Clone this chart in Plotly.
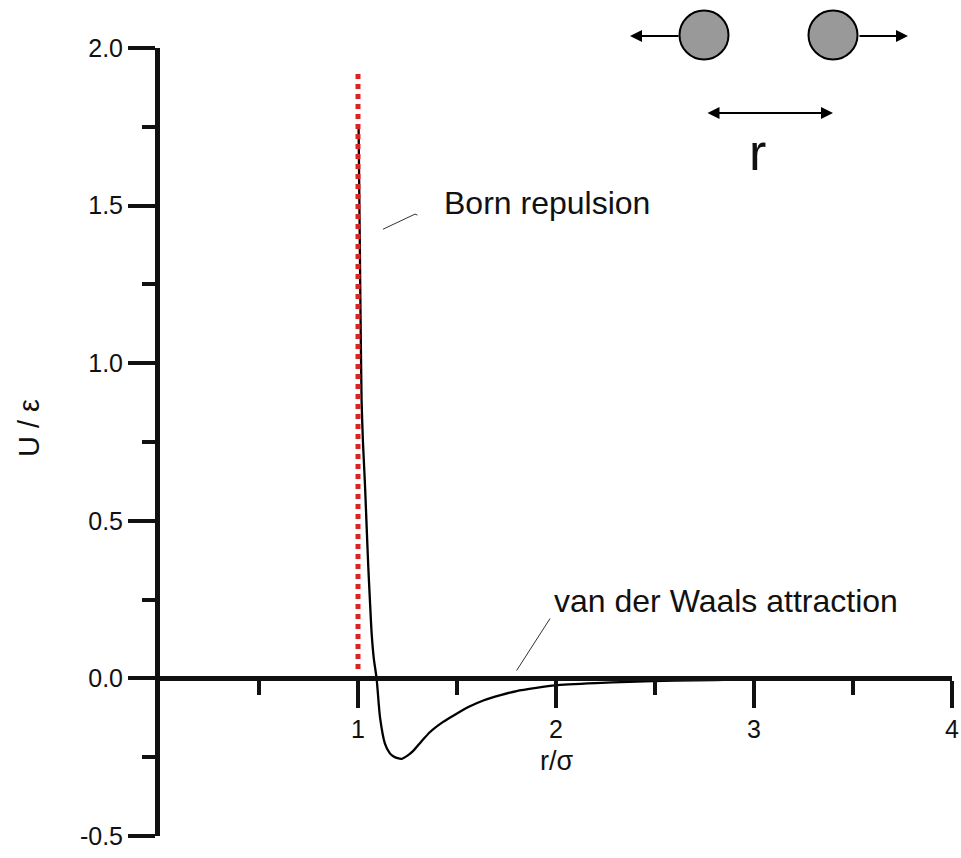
import plotly.graph_objects as go

# ---- data ----
r_vals = [1.003, 1.008, 1.012, 1.018, 1.025, 1.035, 1.045, 1.052, 1.060, 1.069,
          1.080, 1.094, 1.111, 1.136, 1.160, 1.178, 1.200, 1.221, 1.250, 1.280,
          1.320, 1.364, 1.430, 1.498, 1.560, 1.633, 1.720, 1.801, 1.900, 1.995,
          2.200, 2.370, 2.600, 2.800, 3.000, 3.300, 3.600, 4.000]
u_vals = [1.75, 1.45, 1.20, 0.884, 0.75, 0.618, 0.46, 0.353, 0.25, 0.142,
          0.062, 0.0, -0.123, -0.207, -0.237, -0.247, -0.253, -0.255, -0.245, -0.229,
          -0.200, -0.170, -0.138, -0.112, -0.090, -0.070, -0.053, -0.040, -0.030, -0.022,
          -0.015, -0.011, -0.007, -0.005, -0.003, -0.002, -0.001, -0.001]

born_x = [1.0, 1.0]
born_y = [0.03, 1.93]

x_tick_vals = [1, 2, 3, 4]
x_tick_text = ["1", "2", "3", "4"]
x_minor_vals = [0.5, 1.5, 2.5, 3.5]
y_tick_vals = [-0.5, 0.0, 0.5, 1.0, 1.5, 2.0]
y_tick_text = ["-0.5", "0.0", "0.5", "1.0", "1.5", "2.0"]
y_minor_vals = [-0.25, 0.25, 0.75, 1.25, 1.75]

FONT = "Liberation Sans, Arial, sans-serif"
INK = "#111111"

fig = go.Figure()
fig.add_trace(go.Scatter(x=r_vals, y=u_vals, mode="lines",
                         line=dict(color="black", width=2.3, shape="spline", smoothing=0.6),
                         showlegend=False, cliponaxis=False))
fig.add_trace(go.Scatter(x=born_x, y=born_y, mode="lines",
                         line=dict(color="#dd2222", width=5, dash="5px,5px"),
                         hoverinfo="skip", showlegend=False))

W, H = 961, 858
L, R, T, B = 160, 9, 48, 22
PW, PH = W - L - R, H - T - B


def px(xp):
    return (xp - L) / PW


def py(yp):
    return (H - B - yp) / PH


shapes = []
# leader lines
shapes.append(dict(type="line", xref="x", yref="y", x0=1.126, y0=1.425, x1=1.288, y1=1.473,
                   line=dict(color="#333333", width=1)))
shapes.append(dict(type="line", xref="x", yref="y", x0=1.288, y0=1.473, x1=1.300, y1=1.470,
                   line=dict(color="#333333", width=1)))
shapes.append(dict(type="line", xref="x", yref="y", x0=1.801, y0=0.025, x1=1.970, y1=0.190,
                   line=dict(color="#333333", width=1)))
# particles
for cx in (704, 833):
    shapes.append(dict(type="circle", xref="paper", yref="paper",
                       x0=px(cx - 24.5), x1=px(cx + 24.5), y0=py(35 + 24.5), y1=py(35 - 24.5),
                       fillcolor="#999999", line=dict(color="black", width=2)))


def txt(x, y, s, size, **kw):
    return dict(x=px(x), y=py(y), xref="paper", yref="paper", text=s, showarrow=False,
                xanchor="center", yanchor="middle",
                font=dict(family=FONT, size=size, color=INK), **kw)


annotations = [
    dict(x=1.424, y=1.508, xref="x", yref="y", text="Born repulsion", showarrow=False,
         xanchor="left", yanchor="middle", font=dict(family=FONT, size=32, color=INK)),
    dict(x=1.98, y=0.244, xref="x", yref="y", text="van der Waals attraction", showarrow=False,
         xanchor="left", yanchor="middle", font=dict(family=FONT, size=32, color=INK)),
    txt(29, 428, "U / ε", 29, textangle=-90),
    txt(556, 761, "r/σ", 27),
    txt(757, 152, "r", 52),
    # arrows
    dict(x=px(630), y=py(36), xref="paper", yref="paper", ax=50, ay=0, text="",
         showarrow=True, arrowhead=2, arrowsize=1.2, arrowwidth=2, arrowcolor="black"),
    dict(x=px(908), y=py(36), xref="paper", yref="paper", ax=-50, ay=0, text="",
         showarrow=True, arrowhead=2, arrowsize=1.2, arrowwidth=2, arrowcolor="black"),
    dict(x=px(833), y=py(113), xref="paper", yref="paper", ax=-127, ay=0, text="",
         showarrow=True, arrowhead=2, startarrowhead=2, arrowside="end+start",
         arrowsize=1.2, startarrowsize=1.2, arrowwidth=2, arrowcolor="black"),
]

fig.update_layout(
    width=W, height=H,
    margin=dict(l=L, r=R, t=T, b=B, pad=0, autoexpand=False),
    paper_bgcolor="white", plot_bgcolor="white",
    font=dict(family=FONT, size=25, color=INK),
    shapes=shapes, annotations=annotations,
    showlegend=False,
)
fig.update_xaxes(range=[0, 4], anchor="free", position=0.2, automargin=False,
                 showline=True, linewidth=5, linecolor=INK,
                 showgrid=False, zeroline=False,
                 tickmode="array", tickvals=x_tick_vals, ticktext=x_tick_text,
                 ticks="outside", ticklen=27, tickwidth=3.5, tickcolor=INK,
                 tickfont=dict(family=FONT, size=25, color=INK),
                 minor=dict(tickmode="array", tickvals=x_minor_vals, ticks="outside",
                            ticklen=14, tickwidth=3.5, tickcolor=INK, showgrid=False))
fig.update_yaxes(range=[-0.5, 2.0], automargin=False,
                 showline=True, linewidth=5, linecolor=INK,
                 showgrid=False, zeroline=False,
                 tickmode="array", tickvals=y_tick_vals, ticktext=y_tick_text,
                 ticks="outside", ticklen=27, tickwidth=3.5, tickcolor=INK,
                 tickfont=dict(family=FONT, size=25, color=INK),
                 minor=dict(tickmode="array", tickvals=y_minor_vals, ticks="outside",
                            ticklen=13, tickwidth=3.5, tickcolor=INK, showgrid=False))

fig.write_html("out.html")
